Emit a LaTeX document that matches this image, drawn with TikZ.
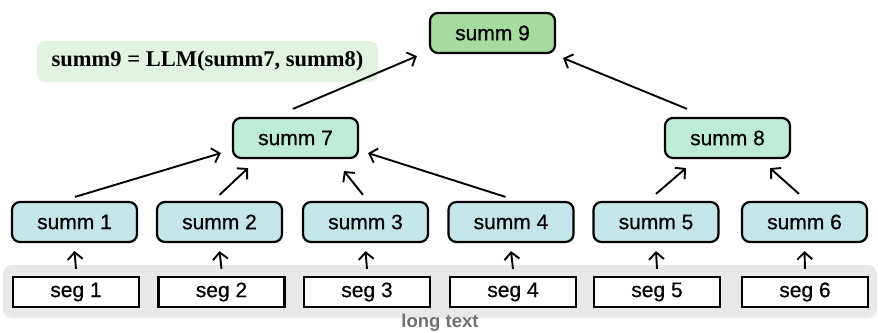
\documentclass[tikz,border=0pt]{standalone}
\usepackage{fontspec}
\setmainfont{Liberation Serif}
\setsansfont{Liberation Sans}
\newfontfamily\boxfont[FakeBold=0.6]{Liberation Sans}
\usetikzlibrary{arrows.meta,calc}
\definecolor{gtop}{HTML}{A6DBA0}
\definecolor{gmid}{HTML}{BDEBD5}
\definecolor{gbot}{HTML}{C4E6E8}
\definecolor{gform}{HTML}{E3F3E1}
\definecolor{band}{HTML}{E8E8E8}
\definecolor{lbl}{HTML}{717171}
\tikzset{
  sbox/.style={draw=black, line width=2.2pt, rounded corners=8pt, minimum width=125pt, minimum height=40pt, inner sep=0pt, font=\boxfont\fontsize{21}{24}\selectfont},
  segbox/.style={draw=black, line width=2.2pt, fill=white, minimum width=126pt, minimum height=30pt, inner sep=0pt, font=\boxfont\fontsize{21}{24}\selectfont},
  arr/.style={line width=1.9pt, -{Straight Barb[length=7pt,width=15pt,line width=1.9pt]}}
}
\begin{document}
\begin{tikzpicture}[x=1pt,y=-1pt]
\useasboundingbox (0,0) rectangle (878,332);
% background band
\node[fill=band, rounded corners=9pt, minimum width=874pt, minimum height=53pt, inner sep=0pt] (band) at (440,291.5) {};
\node[font=\sffamily\bfseries\fontsize{18.5}{20}\selectfont, text=lbl] (lt) at (440,323) {long text};
% formula
\node[fill=gform, rounded corners=8pt, minimum width=341pt, minimum height=41pt, inner sep=0pt, font=\bfseries\fontsize{22.5}{26}\selectfont] (form) at (207.5,61.5) {summ9 = LLM(summ7, summ8)};
% top
\node[sbox, fill=gtop] (s9) at (492.5,33) {summ 9};
\node[sbox, fill=gmid] (s7) at (295.5,138) {summ 7};
\node[sbox, fill=gmid] (s8) at (727.5,138) {summ 8};
% summaries
\node[sbox, fill=gbot] (s1) at (74.5,222) {summ 1};
\node[sbox, fill=gbot] (s2) at (219.5,222) {summ 2};
\node[sbox, fill=gbot] (s3) at (365.5,222) {summ 3};
\node[sbox, fill=gbot] (s4) at (511,222) {summ 4};
\node[sbox, fill=gbot] (s5) at (656,222) {summ 5};
\node[sbox, fill=gbot] (s6) at (804.5,222) {summ 6};
% segments
\node[segbox] (g1) at (76,292) {seg 1};
\node[segbox] (g2) at (221.5,292) {seg 2};
\node[segbox] (g3) at (367,292) {seg 3};
\node[segbox] (g4) at (513,292) {seg 4};
\node[segbox] (g5) at (657,292) {seg 5};
\node[segbox] (g6) at (805,292) {seg 6};
% seg -> summ
\foreach \i in {1,...,6} {
  \draw[arr] ($(g\i.north)+(0,-7)$) -- ($(s\i.south)+(0,8)$);
}
% summ -> summ7 / summ8
\draw[arr] ($(s1.north)+(0.5,-4)$) -- ($(s7.south west)+(-11,-6)$);
\draw[arr] ($(s2.north)+(0,-6)$) -- ($(s7.south)+(-47.5,9)$);
\draw[arr] ($(s3.north)+(-2.5,-6)$) -- ($(s7.south)+(48.5,12)$);
\draw[arr] ($(s4.north)+(-5.5,-4)$) -- ($(s7.south east)+(9,-6)$);
\draw[arr] ($(s5.north)+(0,-7)$) -- ($(s8.south)+(-41.5,9)$);
\draw[arr] ($(s6.north)+(-5.5,-7)$) -- ($(s8.south)+(42.5,9)$);
% -> summ9
\draw[arr] ($(s7.north)+(-2.5,-8)$) -- ($(s9.south west)+(-12,2)$);
\draw[arr] ($(s8.north)+(-40.5,-8)$) -- ($(s9.south east)+(7,4)$);
\end{tikzpicture}
\end{document}
